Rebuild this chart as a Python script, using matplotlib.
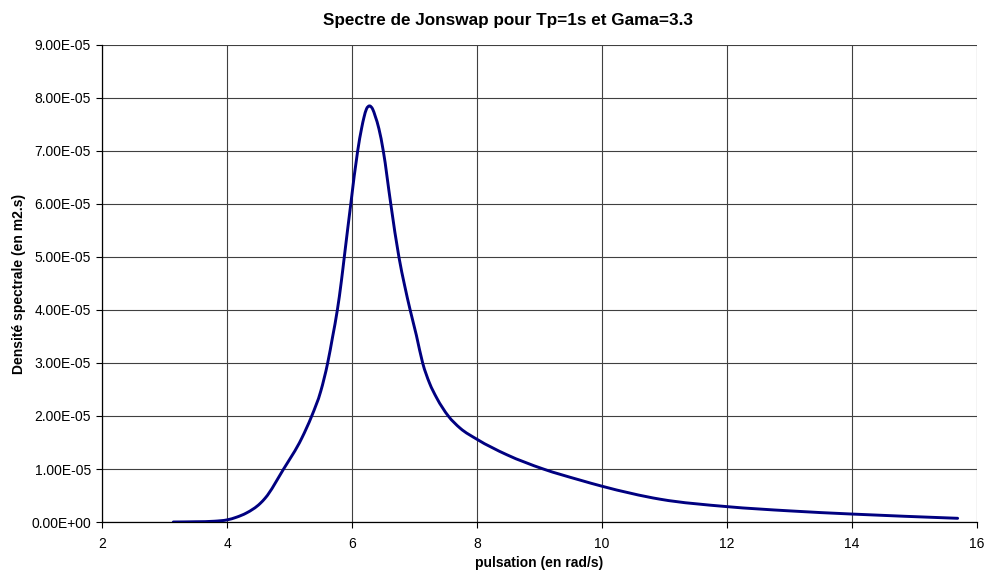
import matplotlib
matplotlib.use("Agg")
import matplotlib.pyplot as plt
from matplotlib.path import Path
from matplotlib.patches import PathPatch
from matplotlib.ticker import FuncFormatter, MultipleLocator

plt.rcParams["font.family"] = ["Liberation Sans", "DejaVu Sans"]

# Jonswap spectrum, Tp = 1 s, gamma = 3.3 (density in 1e-5 m2.s)
pulsation = [3.14, 3.5, 3.8, 4.0, 4.15, 4.31, 4.53, 4.61, 4.90, 5.195,
             5.355, 5.50, 5.61, 5.69, 5.765, 5.83, 5.876, 5.98, 6.09, 6.155,
             6.19, 6.23, 6.28, 6.33, 6.37, 6.43, 6.50, 6.62, 6.75, 6.84,
             6.93, 7.03, 7.13, 7.24, 7.355, 7.54, 7.73, 8.0, 8.475, 9.06,
             9.65, 10.0, 10.93, 12.0, 13.0, 14.0, 15.69]
density_e5 = [0.0, 0.005, 0.015, 0.04, 0.09, 0.17, 0.35, 0.45, 0.99, 1.58,
              2.0, 2.47, 3.0, 3.5, 4.0, 4.55, 5.0, 6.0, 7.0, 7.44,
              7.63, 7.79, 7.85, 7.79, 7.66, 7.42, 7.0, 6.0, 5.0, 4.47,
              4.0, 3.52, 3.0, 2.62, 2.34, 2.0, 1.77, 1.56, 1.27, 1.0,
              0.79, 0.675, 0.43, 0.29, 0.21, 0.15, 0.07]
density = [d * 1e-5 for d in density_e5]


def smooth_path(xs, ys):
    """Cubic Bezier path through the points, slopes from neighbouring points."""
    n = len(xs)
    slopes = []
    for i in range(n):
        if i == 0:
            slopes.append((ys[1] - ys[0]) / (xs[1] - xs[0]))
        elif i == n - 1:
            slopes.append((ys[-1] - ys[-2]) / (xs[-1] - xs[-2]))
        else:
            h0 = xs[i] - xs[i - 1]
            h1 = xs[i + 1] - xs[i]
            d0 = (ys[i] - ys[i - 1]) / h0
            d1 = (ys[i + 1] - ys[i]) / h1
            slopes.append((d0 * h1 + d1 * h0) / (h0 + h1))
    verts = [(xs[0], ys[0])]
    codes = [Path.MOVETO]
    for i in range(n - 1):
        h = xs[i + 1] - xs[i]
        verts += [(xs[i] + h / 3, ys[i] + slopes[i] * h / 3),
                  (xs[i + 1] - h / 3, ys[i + 1] - slopes[i + 1] * h / 3),
                  (xs[i + 1], ys[i + 1])]
        codes += [Path.CURVE4] * 3
    return Path(verts, codes)


fig = plt.figure(figsize=(9.85, 5.70), dpi=100)
ax = fig.add_axes([0.1036, 0.0842, 0.8883, 0.8369])

ax.add_patch(PathPatch(smooth_path(pulsation, density), facecolor="none",
                       edgecolor="#000080", lw=2.1, capstyle="round",
                       joinstyle="round", zorder=3))

ax.set_xlim(2, 16)
ax.set_ylim(0, 9e-5)
ax.xaxis.set_major_locator(MultipleLocator(2))
ax.yaxis.set_major_locator(MultipleLocator(1e-5))
ax.yaxis.set_major_formatter(FuncFormatter(lambda v, _: f"{v:.2E}"))

ax.grid(True, color="#404040", lw=0.8)
ax.set_axisbelow(True)
for side in ("top", "right"):
    ax.spines[side].set_visible(False)
for side in ("left", "bottom"):
    ax.spines[side].set_color("#000000")
    ax.spines[side].set_linewidth(0.9)

ax.tick_params(axis="both", direction="out", length=4, width=0.8,
               labelsize=10)
ax.tick_params(axis="x", pad=6.5)
ax.tick_params(axis="y", pad=4)

fig.text(508 / 985, 1 - 21 / 570, "Spectre de Jonswap pour Tp=1s et Gama=3.3",
         fontsize=12.3, fontweight="bold", ha="center", va="center")
ax.set_xlabel("pulsation (en rad/s)", fontsize=10, fontweight="bold",
              labelpad=4)
ax.set_ylabel("Densité spectrale (en m2.s)", fontsize=10, fontweight="bold",
              labelpad=3.5)

fig.savefig("out.png", dpi=100)
